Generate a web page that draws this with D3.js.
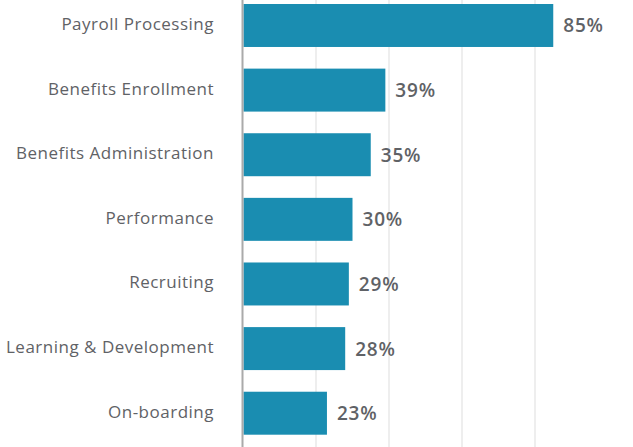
<!DOCTYPE html>
<html>
<head>
<meta charset="utf-8">
<script src="https://cdn.jsdelivr.net/npm/d3@7"></script>
<style>
  html, body { margin: 0; padding: 0; background: #fff; }
  svg { display: block; }
  text { font-family: "Open Sans", Lato, sans-serif; }
</style>
</head>
<body>
<svg id="chart" width="633" height="447"></svg>
<script>
const categories = ["Payroll Processing", "Benefits Enrollment", "Benefits Administration", "Performance", "Recruiting", "Learning & Development", "On-boarding"];
const values = [85, 39, 35, 30, 29, 28, 23];
const gridTicks = [20, 40, 60, 80];

const W = 633, H = 447;
const svg = d3.select("#chart");

const x = d3.scaleLinear().domain([0, 100]).range([243, 608]);
const y = d3.scaleBand().domain(categories).range([4, 434.7]).paddingInner(0.335).paddingOuter(0);

// gridlines
svg.append("g").selectAll("line").data(gridTicks).join("line")
  .attr("x1", d => x(d)).attr("x2", d => x(d))
  .attr("y1", 0).attr("y2", H)
  .attr("stroke", "#e8e8e8").attr("stroke-width", 1.5);

// bars
svg.append("g").selectAll("rect").data(values).join("rect")
  .attr("x", x(0) + 0.5)
  .attr("y", (d, i) => y(categories[i]))
  .attr("width", d => x(d) - x(0) - 0.5)
  .attr("height", y.bandwidth())
  .attr("fill", "#1a8db1");

// axis line
svg.append("line")
  .attr("x1", x(0) - 0.5).attr("x2", x(0) - 0.5)
  .attr("y1", 0).attr("y2", H)
  .attr("stroke", "#aaaaaa").attr("stroke-width", 2);

// category labels
svg.append("g").selectAll("text").data(categories).join("text")
  .attr("x", 214)
  .attr("y", d => y(d) + y.bandwidth() / 2 - 2)
  .attr("text-anchor", "end")
  .attr("dominant-baseline", "central")
  .attr("font-size", 17)
  .attr("letter-spacing", 0.5)
  .attr("fill", "#5f6266")
  .text(d => d);

// value labels
svg.append("g").selectAll("text").data(values).join("text")
  .attr("x", d => x(d) + 10)
  .attr("y", (d, i) => y(categories[i]) + y.bandwidth() / 2)
  .attr("dominant-baseline", "central")
  .attr("font-size", 19)
  .attr("font-weight", 600)
  .attr("letter-spacing", 0.8)
  .attr("fill", "#5f6266")
  .text(d => d + "%");
</script>
</body>
</html>
